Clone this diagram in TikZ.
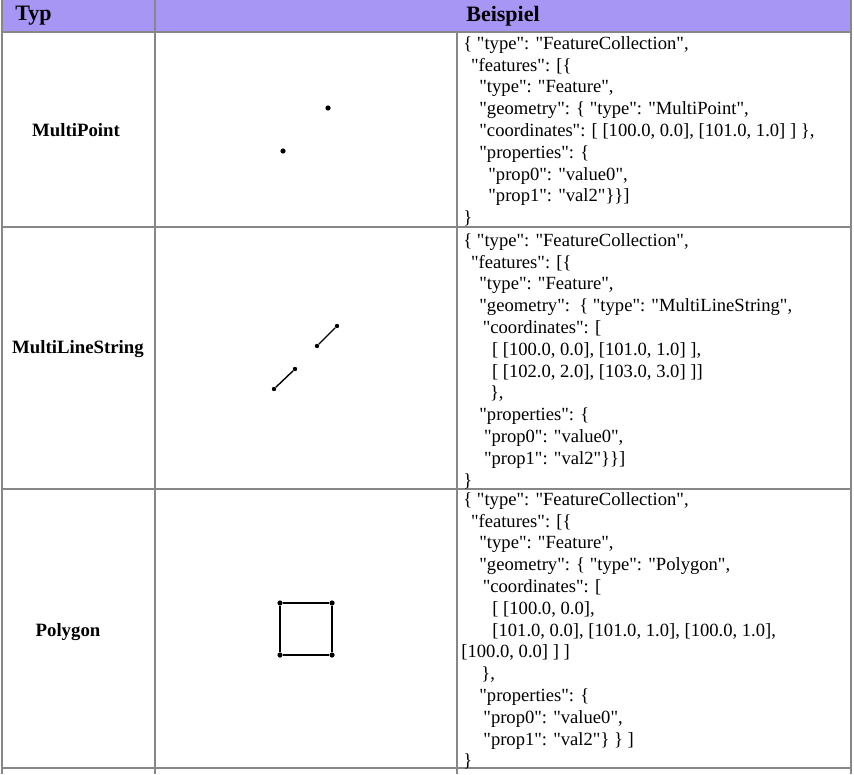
\documentclass[tikz,border=0pt]{standalone}
\usepackage{fontspec}
\setmainfont{Liberation Serif}[Ligatures=TeXOff]
\definecolor{headpurple}{RGB}{168,150,245}
\definecolor{gridgray}{RGB}{135,135,135}

\begin{document}
\begin{tikzpicture}[
        x=0.5pt, y=-0.5pt,
        tabline/.style={draw=gridgray, line width=0.7pt},
        headcell/.style={font=\fontsize{11}{13}\selectfont\bfseries, inner sep=0pt},
        typcell/.style={font=\fontsize{9.4}{11}\selectfont\bfseries, inner sep=0pt},
        codecell/.style={font=\fontsize{9.3}{10.9}\selectfont, align=left, anchor=north west, inner sep=0pt},
        geopt/.style={circle, fill, inner sep=0pt, minimum size=2.2pt},
        geoline/.style={line width=0.7pt}
    ]
    \useasboundingbox (0,0) rectangle (854,774);

    % header
    \fill[headpurple] (2,0) rectangle (851,32);
    \node[headcell, anchor=west] (typ) at (15,16) {Typ};
    \node[headcell] (beispiel) at (503,16) {Beispiel};

    % table lines
    \draw[tabline] (2,0) -- (2,774);
    \draw[tabline] (155,0) -- (155,774);
    \draw[tabline] (457,32) -- (457,774);
    \draw[tabline] (851,0) -- (851,774);
    \foreach \y in {32,227,489,768}
        \draw[tabline] (2,\y) -- (851,\y);

    % MultiPoint
    \node[typcell] (multipoint) at (76,130) {MultiPoint};
    \node[geopt, minimum size=2.6pt] (mp1) at (328,108) {};
    \node[geopt, minimum size=2.6pt] (mp2) at (283,151) {};
    \node[codecell] (mpcode) at (463,36) {\{ "type": "FeatureCollection",\\
        \hspace*{3.8pt}"features": [\{\\
        \hspace*{8pt}"type": "Feature",\\
        \hspace*{8pt}"geometry": \{ "type": "MultiPoint",\\
        \hspace*{8pt}"coordinates": [ [100.0, 0.0], [101.0, 1.0] ] \},\\
        \hspace*{8pt}"properties": \{\\
        \hspace*{12.5pt}"prop0": "value0",\\
        \hspace*{12.5pt}"prop1": "val2"\}\}]\\
        \}};

    % MultiLineString
    \node[typcell] (multiline) at (78,349) {MultiLineString};
    \node[geopt] (ls1a) at (274,389) {};
    \node[geopt] (ls1b) at (295,369) {};
    \node[geopt] (ls2a) at (317,346) {};
    \node[geopt] (ls2b) at (337,326) {};
    \draw[geoline] (ls1a) -- (ls1b);
    \draw[geoline] (ls2a) -- (ls2b);
    \node[codecell] (mlcode) at (463,233) {\{ "type": "FeatureCollection",\\
        \hspace*{3.8pt}"features": [\{\\
        \hspace*{8pt}"type": "Feature",\\
        \hspace*{8pt}"geometry":\ \ \{ "type": "MultiLineString",\\
        \hspace*{9.7pt}"coordinates": [\\
        \hspace*{14.3pt}[ [100.0, 0.0], [101.0, 1.0] ],\\
        \hspace*{14.3pt}[ [102.0, 2.0], [103.0, 3.0] ]]\\
        \hspace*{13.3pt}\},\\
        \hspace*{8pt}"properties": \{\\
        \hspace*{10.3pt}"prop0": "value0",\\
        \hspace*{10.3pt}"prop1": "val2"\}\}]\\
        \}};

    % Polygon
    \node[typcell] (polygon) at (68,632) {Polygon};
    \node[geopt, minimum size=2.6pt] (pa) at (280,603) {};
    \node[geopt, minimum size=2.6pt] (pb) at (332,603) {};
    \node[geopt, minimum size=2.6pt] (pc) at (332,655) {};
    \node[geopt, minimum size=2.6pt] (pd) at (280,655) {};
    \draw[geoline, line width=0.9pt] (pa) -- (pb) -- (pc) -- (pd) -- (pa);
    \node[codecell] (pgcode) at (463,492) {\{ "type": "FeatureCollection",\\
        \hspace*{3.8pt}"features": [\{\\
        \hspace*{8pt}"type": "Feature",\\
        \hspace*{8pt}"geometry": \{ "type": "Polygon",\\
        \hspace*{9.7pt}"coordinates": [\\
        \hspace*{14.5pt}[ [100.0, 0.0],\\
        \hspace*{14.5pt}[101.0, 0.0], [101.0, 1.0], [100.0, 1.0],\\
        \hspace*{-1pt}[100.0, 0.0] ] ]\\
        \hspace*{9pt}\},\\
        \hspace*{8pt}"properties": \{\\
        \hspace*{10pt}"prop0": "value0",\\
        \hspace*{10pt}"prop1": "val2"\} \} ]\\
        \}};
\end{tikzpicture}
\end{document}
